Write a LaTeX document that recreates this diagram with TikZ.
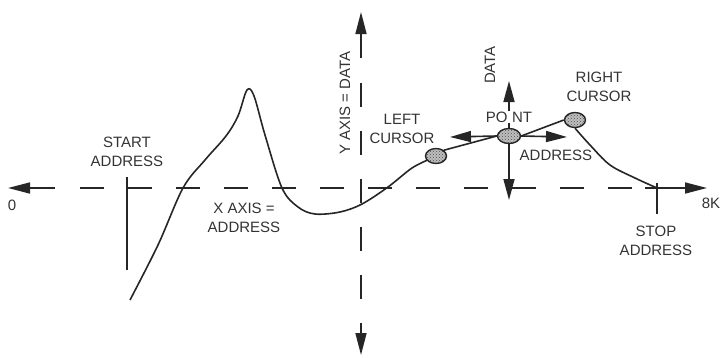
\documentclass[tikz,border=0pt]{standalone}
\usepackage{fontspec}
\setmainfont{Liberation Sans}
\usetikzlibrary{arrows.meta,shapes.geometric,patterns}
\begin{document}
\begin{tikzpicture}[x=1pt,y=-1pt,
  lbl/.style={font=\fontsize{15}{19.5}\selectfont, align=center, inner sep=0pt, text=black!80},
  ln/.style={line width=1.6pt, black!85},
  axdash/.style={ln, dash pattern=on 24pt off 24pt},
  tri/.style={-{Triangle[length=22pt,width=11pt]}},
  smalltri/.style={-{Triangle[length=21pt,width=11pt]}},
  cur/.style={ellipse, draw=black!85, line width=1.4pt, preaction={fill=gray!50}, pattern=crosshatch dots, pattern color=black!70, minimum width=21pt, minimum height=15pt, inner sep=0pt}]
\useasboundingbox (0,0) rectangle (724,357);
% axis coordinates
\coordinate (xl) at (8,188);
\coordinate (xls) at (55,188);
\coordinate (xds) at (80,188);
\coordinate (xde) at (640,188);
\coordinate (xrs) at (645,188);
\coordinate (xr) at (707,188);
\coordinate (yt) at (361,12);
\coordinate (yts) at (361,58);
\coordinate (yds) at (361,83);
\coordinate (yde) at (361,300);
\coordinate (ybs) at (361,323);
\coordinate (yb) at (361,355);
% x axis
\draw[ln,tri] (xls) -- (xl);
\draw[axdash] (xds) -- (xde);
\draw[ln,tri] (xrs) -- (xr);
% y axis
\draw[ln,tri] (yts) -- (yt);
\draw[axdash] (yds) -- (yde);
\draw[ln,tri] (ybs) -- (yb);
% address markers
\coordinate (sa1) at (127,177);
\coordinate (sa2) at (127,270);
\draw[ln] (sa1) -- (sa2);
\coordinate (st1) at (657,183);
\coordinate (st2) at (657,214);
\draw[ln] (st1) -- (st2);
% curve
\draw[ln, line join=round] plot[smooth, tension=0.55] coordinates {(130,300) (158,245) (183,188) (205,160) (226,136) (238,116) (247,90) (254,96) (265,135) (282,188) (298,207) (315,214) (340,212) (362,204) (388,187) (412,168) (430,159)};
% cursors and point
\node[cur] (lc) at (436,156) {};
\node[cur, minimum width=23pt] (pt) at (509,136) {};
\node[cur] (rc) at (575,120) {};
\draw[ln] (lc.north east) -- (pt.west);
\draw[ln] (pt.east) -- (rc.west);
\draw[ln] plot[smooth, tension=0.55] coordinates {(rc.south) (590,145) (610,165) (635,178) (657,188)};
% point arrows
\coordinate (pu) at (509,81);
\coordinate (pd) at (509,200);
\coordinate (pl) at (450,137);
\coordinate (pr) at (567,137);
\draw[ln,smalltri] (pt.north) -- (pu);
\draw[ln,smalltri] (pt.south) -- (pd);
\draw[ln,smalltri] (pt.west) -- (pl);
\draw[ln,smalltri] (pt.east) -- (pr);
% labels
\node[lbl] (l0) at (12,205) {0};
\node[lbl] (l8k) at (711,203) {8K};
\node[lbl] (lsa) at (127,152) {START\\ADDRESS};
\node[lbl] (lxa) at (244,218) {X AXIS =\\ADDRESS};
\node[lbl, rotate=90] (lya) at (345,103) {Y AXIS = DATA};
\node[lbl] (llc) at (402,129) {LEFT\\CURSOR};
\node[lbl, rotate=90] (ld) at (490,65) {DATA};
\node[lbl, fill=white, inner sep=0.5pt] (lp) at (509,117) {PO\hspace{4.5pt}NT};
\node[lbl] (lad) at (556,155) {ADDRESS};
\node[lbl] (lrc) at (599,87) {RIGHT\\CURSOR};
\node[lbl] (lst) at (656,241) {STOP\\ADDRESS};
\end{tikzpicture}
\end{document}
